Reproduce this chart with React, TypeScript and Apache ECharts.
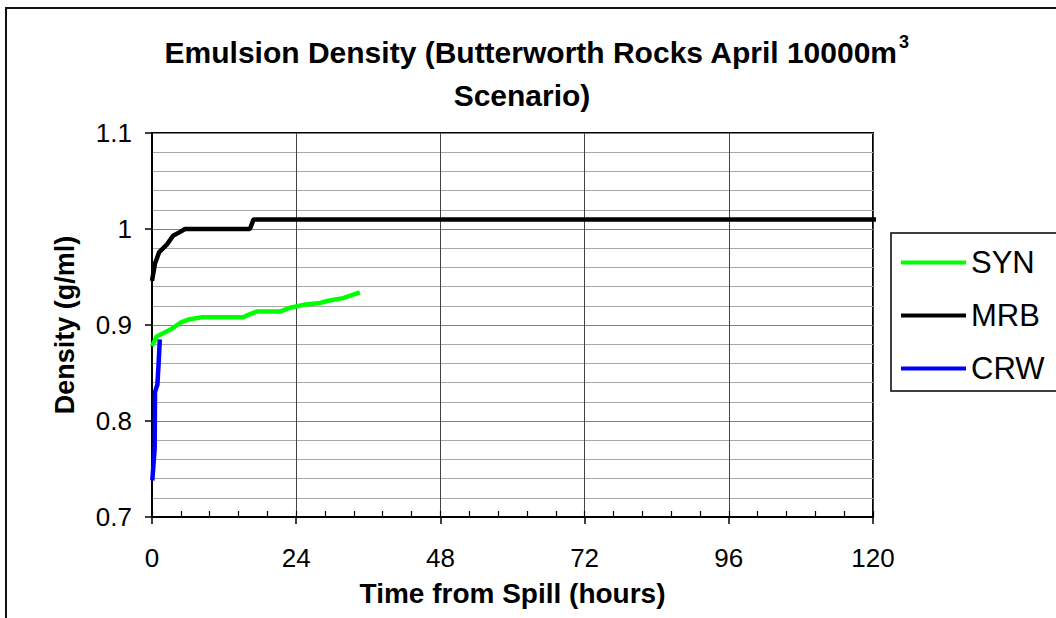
import React, { useEffect, useRef } from "react";
import * as echarts from "echarts";

// ---- data ----
const seriesNames = ["SYN", "MRB", "CRW"];
const seriesColors = ["#00ff00", "#000000", "#0000ff"];

const hoursSYN = [0, 0.78, 3.0, 4.9, 6.3, 8.3, 15.2, 15.8, 17.4, 21.3, 23.0, 25.2, 28.0, 29.1, 31.8, 34.6];
const densitySYN = [0.878, 0.888, 0.895, 0.903, 0.906, 0.908, 0.908, 0.91, 0.914, 0.914, 0.918, 0.921, 0.923, 0.925, 0.928, 0.934];

const hoursMRB = [0, 0.5, 1.2, 2.5, 3.5, 4.7, 5.5, 16.3, 16.9, 121.5];
const densityMRB = [0.946, 0.964, 0.976, 0.984, 0.993, 0.997, 1.0, 1.0, 1.01, 1.01];

const hoursCRW = [0.05, 0.2, 0.45, 0.5, 0.9, 1.1, 1.3];
const densityCRW = [0.738, 0.751, 0.772, 0.83, 0.838, 0.86, 0.885];

const xTicks = [0, 24, 48, 72, 96, 120];
const yTicks = [0.7, 0.8, 0.9, 1.0, 1.1];

const titleLine1 = "Emulsion Density (Butterworth Rocks April 10000m";
const titleSup = "3";
const titleLine2 = "Scenario)";
const xName = "Time from Spill (hours)";
const yName = "Density (g/ml)";

const FONT = "'Liberation Sans', Arial, sans-serif";

function pairs(xs: number[], ys: number[]) {
  return xs.map((x, i) => [x, ys[i]]);
}

export default function App() {
  const ref = useRef<HTMLDivElement>(null);
  useEffect(() => {
    if (!ref.current) return;
    const chart = echarts.init(ref.current, undefined, { renderer: "svg" });
    const data = [pairs(hoursSYN, densitySYN), pairs(hoursMRB, densityMRB), pairs(hoursCRW, densityCRW)];
    const option: any = {
      animation: false,
      backgroundColor: "#ffffff",
      textStyle: { fontFamily: FONT },
      graphic: [
        {
          type: "rect",
          shape: { x: 6, y: 8, width: 1100, height: 700 },
          style: { fill: "none", stroke: "#111", lineWidth: 2 },
          z: 0,
        },
        {
          type: "text",
          x: 897,
          y: 52,
          style: {
            text: titleLine1,
            font: `bold 30px ${FONT}`,
            fill: "#000",
            align: "right",
            verticalAlign: "middle",
          },
        },
        {
          type: "text",
          x: 899,
          y: 42,
          style: {
            text: titleSup,
            font: `bold 18px ${FONT}`,
            fill: "#000",
            align: "left",
            verticalAlign: "middle",
          },
        },
        {
          type: "text",
          x: 522,
          y: 95,
          style: {
            text: titleLine2,
            font: `bold 30px ${FONT}`,
            fill: "#000",
            align: "center",
            verticalAlign: "middle",
          },
        },
      ],
      legend: {
        show: true,
        orient: "vertical",
        left: 891,
        top: 233,
        data: seriesNames,
        icon: "rect",
        itemWidth: 65,
        itemHeight: 4,
        itemGap: 22,
        padding: [14, 40, 7, 10],
        borderColor: "#000",
        borderWidth: 1.5,
        textStyle: { fontFamily: FONT, fontSize: 31, color: "#000", lineHeight: 30 },
      },
      grid: {
        left: 152,
        top: 133,
        width: 721,
        height: 384,
        show: true,
        borderColor: "#000",
        borderWidth: 2,
        backgroundColor: "transparent",
      },
      xAxis: [
        {
          type: "value",
          min: xTicks[0],
          max: xTicks[xTicks.length - 1],
          interval: 24,
          name: xName,
          nameLocation: "middle",
          nameGap: 62,
          nameTextStyle: { fontFamily: FONT, fontSize: 28, fontWeight: "bold", color: "#000" },
          axisLine: { show: true, onZero: false, lineStyle: { color: "#000", width: 2 } },
          axisTick: { show: true, length: 7, inside: false, lineStyle: { color: "#000", width: 1.5 } },
          axisLabel: { show: true, margin: 28, fontFamily: FONT, fontSize: 26, color: "#000" },
          splitLine: { show: true, lineStyle: { color: "#444", width: 1 } },
        },
        {
          type: "value",
          min: 0,
          max: 120,
          interval: 4.8,
          position: "bottom",
          axisLine: { show: false },
          axisTick: { show: true, inside: true, length: 6, lineStyle: { color: "#000", width: 1.2 } },
          axisLabel: { show: false },
          splitLine: { show: false },
        },
      ],
      yAxis: {
        type: "value",
        min: yTicks[0],
        max: yTicks[yTicks.length - 1],
        interval: 0.1,
        name: yName,
        nameLocation: "middle",
        nameGap: 74,
        nameTextStyle: { fontFamily: FONT, fontSize: 27, fontWeight: "bold", color: "#000" },
        axisLine: { show: true, onZero: false, lineStyle: { color: "#000", width: 2 } },
        axisTick: { show: true, length: 7, inside: false, lineStyle: { color: "#000", width: 1.5 } },
        minorTick: { show: false, splitNumber: 5 },
        minorSplitLine: { show: true, lineStyle: { color: "#a8a8a8", width: 1 } },
        axisLabel: {
          show: true,
          margin: 20,
          fontFamily: FONT,
          fontSize: 26,
          color: "#000",
          formatter: (v: number) => String(+v.toFixed(2)),
        },
        splitLine: { show: true, lineStyle: { color: "#808080", width: 1 } },
      },
      series: seriesNames.map((name, i) => ({
        name,
        type: "line",
        xAxisIndex: 0,
        data: data[i],
        showSymbol: false,
        symbol: "none",
        clip: false,
        color: seriesColors[i],
        lineStyle: { color: seriesColors[i], width: 4.5 },
        z: 5 + i,
      })),
    };
    chart.setOption(option);
    return () => chart.dispose();
  }, []);
  return (
    <div
      ref={ref}
      style={{ position: "fixed", left: 0, top: 0, width: 1056, height: 618, background: "#fff" }}
    />
  );
}
